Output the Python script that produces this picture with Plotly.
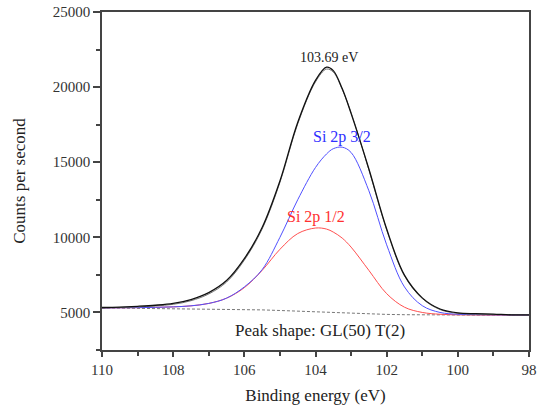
import plotly.graph_objects as go

# Binding energy grid (eV) and read-off intensities (counts per second)
energy = [110, 109.5, 109, 108.5, 108, 107.5, 107, 106.5, 106, 105.5, 105,
          104.5, 104, 103.69, 103.5, 103.25, 103, 102.5, 102, 101.5, 101,
          100.5, 100, 99.5, 99, 98.5, 98]

raw_counts = [5330, 5360, 5410, 5480, 5600, 5860, 6320, 7120, 8580, 10650, 13750,
              17650, 20450, 21330, 21100, 19900, 18250, 14550, 10550, 7480, 5970,
              5230, 4970, 4920, 4890, 4840, 4840]

envelope = [5300, 5330, 5370, 5430, 5540, 5780, 6230, 7020, 8480, 10550, 13650,
            17550, 20350, 21200, 21000, 19850, 18300, 14500, 10500, 7440, 5930,
            5190, 4940, 4890, 4860, 4840, 4820]

si2p32 = [5300, 5310, 5320, 5340, 5370, 5440, 5600, 5950, 6700, 7850, 10000,
          12500, 14650, 15550, 15900, 16000, 15650, 13100, 9500, 6700, 5450,
          5000, 4880, 4850, 4840, 4830, 4820]

si2p12 = [5300, 5310, 5320, 5340, 5370, 5440, 5600, 5950, 6650, 7800, 9200,
          10250, 10620, 10550, 10350, 9950, 9350, 7800, 6250, 5350, 5000,
          4880, 4840, 4830, 4820, 4815, 4810]

background = [5300, 5290, 5280, 5270, 5260, 5250, 5240, 5220, 5200, 5170, 5130,
              5080, 5030, 5000, 4980, 4960, 4940, 4900, 4870, 4850, 4840,
              4835, 4830, 4825, 4820, 4815, 4810]

SERIF = "Liberation Serif, Times New Roman, serif"

fig = go.Figure()

fig.add_trace(go.Scatter(x=energy, y=background, mode="lines",
                         line=dict(color="#555555", width=0.8, dash="3px,2px")))
fig.add_trace(go.Scatter(x=energy, y=si2p12, mode="lines", line_shape="spline",
                         line=dict(color="#ff5050", width=1)))
fig.add_trace(go.Scatter(x=energy, y=si2p32, mode="lines", line_shape="spline",
                         line=dict(color="#5050ff", width=1)))
fig.add_trace(go.Scatter(x=energy, y=envelope, mode="lines", line_shape="spline",
                         line=dict(color="#777777", width=1)))
fig.add_trace(go.Scatter(x=energy, y=raw_counts, mode="lines", line_shape="spline",
                         line=dict(color="#111111", width=1.3)))

# text labels
fig.add_annotation(x=103.62, y=21950, text="103.69 eV", showarrow=False,
                   font=dict(family=SERIF, size=14, color="#222222"))
fig.add_annotation(x=103.25, y=16650, text="Si 2p 3/2", showarrow=False,
                   font=dict(family=SERIF, size=16, color="#3030ff"))
fig.add_annotation(x=104.0, y=11350, text="Si 2p 1/2", showarrow=False,
                   font=dict(family=SERIF, size=16, color="#ff3030"))
fig.add_annotation(x=103.87, y=3830, text="Peak shape: GL(50) T(2)", showarrow=False,
                   font=dict(family=SERIF, size=17, color="#222222"))

axis_style = dict(
    showline=True, linecolor="#444444", linewidth=1.5, mirror=True,
    ticks="outside", tickwidth=1.5, tickcolor="#444444",
    showgrid=False, zeroline=False, tickformat="d", ticklabeloverflow="allow",
    tickfont=dict(family=SERIF, size=15, color="#333333"),
)

fig.update_xaxes(range=[110, 98], dtick=2, tick0=98, ticklen=5,
                 minor=dict(dtick=1, ticks="outside", ticklen=4, tickcolor="#444444"),
                 title=dict(text="Binding energy (eV)", standoff=12,
                            font=dict(family=SERIF, size=17, color="#222222")),
                 **axis_style)
fig.update_yaxes(range=[2500, 25000], dtick=5000, tick0=0, ticklen=7,
                 minor=dict(dtick=2500, ticks="outside", ticklen=4, tickcolor="#444444"),
                 title=dict(text="Counts per second", standoff=23,
                            font=dict(family=SERIF, size=17, color="#222222")),
                 **axis_style)

fig.update_layout(
    width=537, height=411,
    margin=dict(l=102, r=8, t=12, b=61, autoexpand=False),
    plot_bgcolor="white", paper_bgcolor="white",
    showlegend=False,
)

# drop the default page margin so the figure sits at the window's corner
fig.write_html("out.html", config={"displayModeBar": False},
               post_script="document.body.style.margin='0';document.body.style.overflow='hidden';")
